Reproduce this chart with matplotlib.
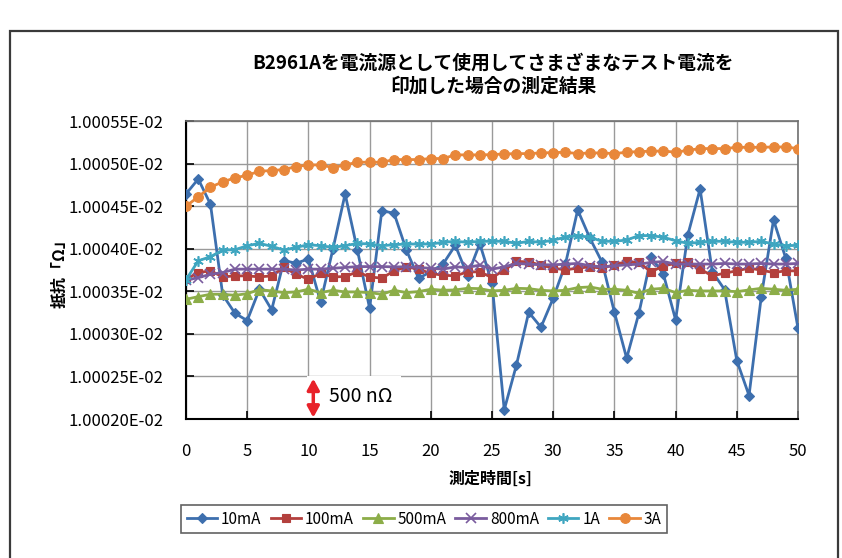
import matplotlib
matplotlib.use("Agg")
import matplotlib.pyplot as plt
from matplotlib.patches import Rectangle, FancyArrowPatch
from matplotlib.ticker import FuncFormatter

FAM = ['Noto Sans CJK JP', 'DejaVu Sans']
plt.rcParams['font.family'] = FAM

# ---- data (resistance in ohm, mantissa x 1e-2) ----
t = list(range(0, 51))
r_10mA = [1.0004643, 1.0004819, 1.0004522, 1.0003458, 1.0003242, 1.0003156, 1.0003524, 1.0003282,
          1.0003861, 1.0003829, 1.0003880, 1.0003372, 1.0003994, 1.0004643, 1.0003986, 1.0003301,
          1.0004447, 1.0004416, 1.0003986, 1.0003653, 1.0003730, 1.0003820, 1.0004040, 1.0003685,
          1.0004060, 1.0003595, 1.0002108, 1.0002636, 1.0003254, 1.0003078, 1.0003418, 1.0003820,
          1.0004455, 1.0004123, 1.0003840, 1.0003254, 1.0002714, 1.0003242, 1.0003900, 1.0003704,
          1.0003164, 1.0004162, 1.0004702, 1.0003730, 1.0003520, 1.0002687, 1.0002276, 1.0003438,
          1.0004338, 1.0003888, 1.0003066]
r_100mA = [1.0003642, 1.0003720, 1.0003740, 1.0003669, 1.0003681, 1.0003681, 1.0003669, 1.0003681,
           1.0003780, 1.0003700, 1.0003642, 1.0003709, 1.0003669, 1.0003673, 1.0003728, 1.0003669,
           1.0003654, 1.0003740, 1.0003787, 1.0003760, 1.0003709, 1.0003689, 1.0003681, 1.0003728,
           1.0003728, 1.0003661, 1.0003748, 1.0003850, 1.0003846, 1.0003807, 1.0003772, 1.0003752,
           1.0003772, 1.0003787, 1.0003772, 1.0003811, 1.0003850, 1.0003839, 1.0003728, 1.0003799,
           1.0003827, 1.0003839, 1.0003760, 1.0003681, 1.0003713, 1.0003740, 1.0003772, 1.0003748,
           1.0003720, 1.0003740, 1.0003740]
r_500mA = [1.0003406, 1.0003437, 1.0003465, 1.0003465, 1.0003453, 1.0003472, 1.0003520, 1.0003504,
           1.0003484, 1.0003492, 1.0003524, 1.0003484, 1.0003512, 1.0003492, 1.0003492, 1.0003484,
           1.0003465, 1.0003512, 1.0003484, 1.0003496, 1.0003524, 1.0003512, 1.0003516, 1.0003535,
           1.0003531, 1.0003504, 1.0003512, 1.0003535, 1.0003531, 1.0003512, 1.0003504, 1.0003512,
           1.0003543, 1.0003551, 1.0003524, 1.0003524, 1.0003512, 1.0003476, 1.0003524, 1.0003535,
           1.0003484, 1.0003512, 1.0003504, 1.0003504, 1.0003504, 1.0003496, 1.0003516, 1.0003535,
           1.0003524, 1.0003512, 1.0003524]
r_800mA = [1.0003630, 1.0003660, 1.0003700, 1.0003720, 1.0003760, 1.0003760, 1.0003760, 1.0003760,
           1.0003760, 1.0003750, 1.0003760, 1.0003760, 1.0003770, 1.0003780, 1.0003790, 1.0003790,
           1.0003790, 1.0003787, 1.0003787, 1.0003780, 1.0003770, 1.0003760, 1.0003787, 1.0003780,
           1.0003807, 1.0003760, 1.0003787, 1.0003827, 1.0003819, 1.0003811, 1.0003811, 1.0003819,
           1.0003827, 1.0003800, 1.0003787, 1.0003799, 1.0003811, 1.0003819, 1.0003839, 1.0003850,
           1.0003819, 1.0003820, 1.0003820, 1.0003820, 1.0003827, 1.0003820, 1.0003820, 1.0003827,
           1.0003820, 1.0003820, 1.0003827]
r_1A = [1.0003634, 1.0003858, 1.0003906, 1.0003984, 1.0003988, 1.0004035, 1.0004063, 1.0004028,
        1.0003984, 1.0004016, 1.0004047, 1.0004035, 1.0004016, 1.0004035, 1.0004063, 1.0004055,
        1.0004035, 1.0004047, 1.0004055, 1.0004055, 1.0004055, 1.0004075, 1.0004087, 1.0004075,
        1.0004087, 1.0004087, 1.0004087, 1.0004063, 1.0004087, 1.0004075, 1.0004102, 1.0004134,
        1.0004154, 1.0004134, 1.0004087, 1.0004087, 1.0004102, 1.0004154, 1.0004154, 1.0004134,
        1.0004094, 1.0004063, 1.0004075, 1.0004087, 1.0004087, 1.0004075, 1.0004075, 1.0004087,
        1.0004055, 1.0004035, 1.0004040]
r_3A = [1.0004500, 1.0004609, 1.0004723, 1.0004785, 1.0004832, 1.0004863, 1.0004910, 1.0004918,
        1.0004930, 1.0004965, 1.0004984, 1.0004984, 1.0004953, 1.0004984, 1.0005016, 1.0005016,
        1.0005016, 1.0005047, 1.0005047, 1.0005047, 1.0005059, 1.0005059, 1.0005102, 1.0005102,
        1.0005102, 1.0005105, 1.0005113, 1.0005117, 1.0005117, 1.0005125, 1.0005129, 1.0005133,
        1.0005117, 1.0005125, 1.0005125, 1.0005117, 1.0005133, 1.0005141, 1.0005145, 1.0005148,
        1.0005133, 1.0005156, 1.0005176, 1.0005176, 1.0005176, 1.0005191, 1.0005191, 1.0005191,
        1.0005195, 1.0005195, 1.0005176]
scale = 1e-2

labels = ['10mA', '100mA', '500mA', '800mA', '1A', '3A']
series = [r_10mA, r_100mA, r_500mA, r_800mA, r_1A, r_3A]
colors = ['#3d6fae', '#b3403d', '#8cad48', '#7a5c9e', '#3fa6c0', '#e8873a']
markers = ['D', 's', '^', 'x', (6, 2, 0), 'o']
msizes = [5.0, 6.0, 6.5, 6.5, 7.5, 7.0]

title = 'B2961Aを電流源として使用してさまざまなテスト電流を\n印加した場合の測定結果'
xlabel = '測定時間[s]'
ylabel = '抵抗「Ω」'
y_ticks = [1.00020, 1.00025, 1.00030, 1.00035, 1.00040, 1.00045, 1.00050, 1.00055]
x_ticks = [0, 5, 10, 15, 20, 25, 30, 35, 40, 45, 50]

fig = plt.figure(figsize=(8.42, 5.58), dpi=100)
fig.patch.set_facecolor('white')
fig.add_artist(Rectangle((10 / 842, -0.1), 828 / 842, 1.1 - 31 / 558, transform=fig.transFigure,
                         fill=False, edgecolor='#3a3a3a', linewidth=1.6))

ax = fig.add_axes([186 / 842, 1 - 419 / 558, 612 / 842, 298 / 558])
for lab, vals, c, m, ms in zip(labels, series, colors, markers, msizes):
    ax.plot(t, [v * scale for v in vals], color=c, marker=m, markersize=ms, linewidth=2.0,
            markeredgewidth=1.2 if (m == 'x' or isinstance(m, tuple)) else 0.8,
            markeredgecolor=c, label=lab, zorder=3)

ax.set_xlim(0, 50)
ax.set_ylim(y_ticks[0] * scale, y_ticks[-1] * scale)
ax.set_xticks(x_ticks)
ax.set_yticks([v * scale for v in y_ticks])
ax.yaxis.set_major_formatter(FuncFormatter(lambda v, p: f'{v:.5E}'))
ax.grid(True, color='#9a9a9a', linewidth=1.0, zorder=0)
ax.set_axisbelow(True)
ax.tick_params(direction='in', length=6, width=1.2, labelsize=12, colors='black')
ax.tick_params(axis='y', pad=16)
ax.tick_params(axis='x', pad=17)
for s in ['left', 'bottom']:
    ax.spines[s].set_color('black')
    ax.spines[s].set_linewidth(1.5)
for s in ['top', 'right']:
    ax.spines[s].set_color('#707070')
    ax.spines[s].set_linewidth(1.2)

# 500 nOhm scale marker
ax.add_patch(Rectangle((9.9, 1.000201 * scale), 7.7, 0.000049 * scale, facecolor='white',
                       edgecolor='none', zorder=1.5))
ax.add_patch(FancyArrowPatch((10.4, 1.000249 * scale), (10.4, 1.000200 * scale),
                             arrowstyle='<|-|>,head_length=0.55,head_width=0.3',
                             mutation_scale=12, color='#e8222a', linewidth=2.5,
                             shrinkA=1, shrinkB=1, zorder=4))
ax.text(11.7, 1.000227 * scale, '500 nΩ', fontsize=14, va='center', ha='left', zorder=4)

fig.text(493 / 842, 1 - 75 / 558, title, ha='center', va='center', fontsize=13.5,
         fontweight='bold', linespacing=1.25)
fig.text(490 / 842, 1 - 479 / 558, xlabel, ha='center', va='center', fontsize=11.5,
         fontweight='bold')
fig.text(60 / 842, 1 - 270 / 558, ylabel, ha='center', va='center', fontsize=11.5,
         fontweight='bold', rotation=90)

leg = fig.legend(loc='center', bbox_to_anchor=(424 / 842, 1 - 519 / 558), ncol=6,
                 frameon=True, fancybox=False, edgecolor='#3a3a3a', fontsize=11,
                 handlelength=2.0, handletextpad=0.25, columnspacing=0.6, borderpad=0.35)
leg.get_frame().set_linewidth(1.2)

fig.savefig('out.png', dpi=100, facecolor='white')
